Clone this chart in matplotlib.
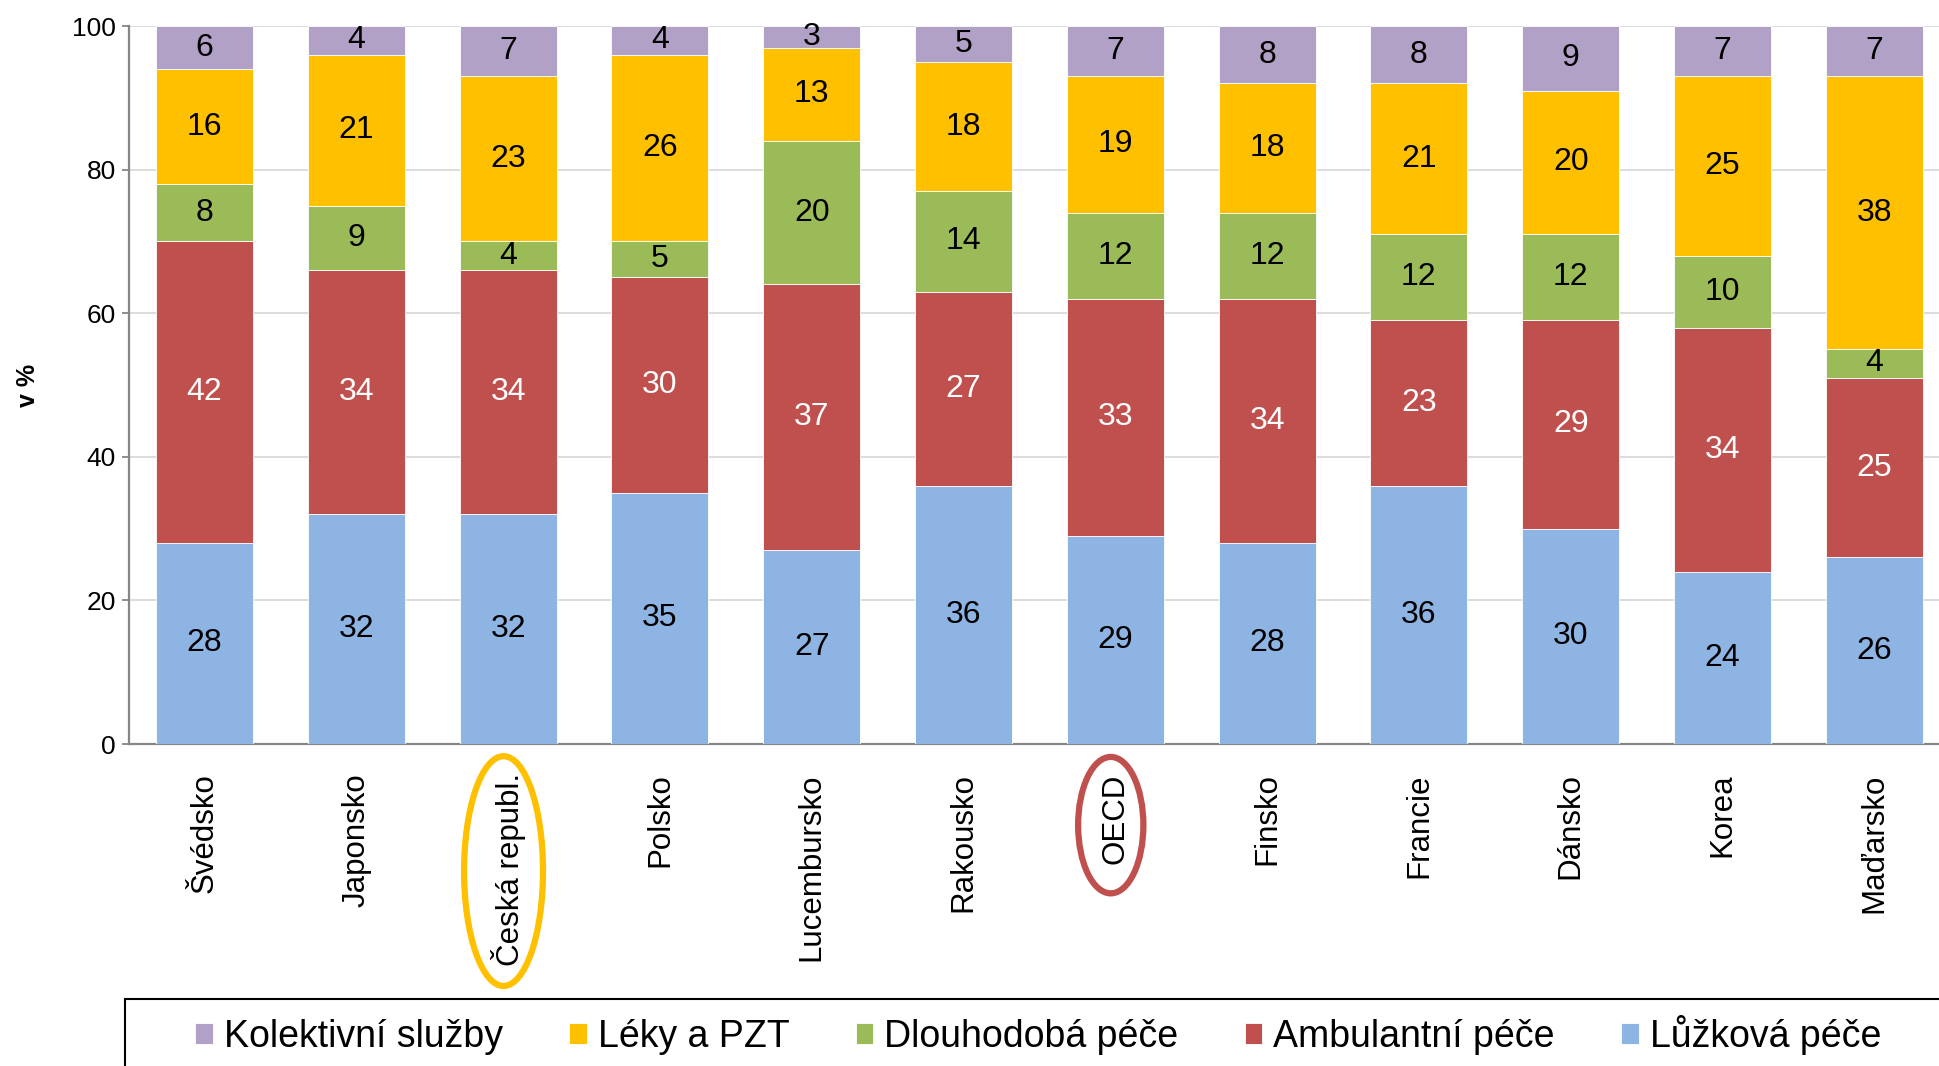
import numpy as np
import matplotlib.pyplot as plt
from matplotlib.patches import Ellipse, Rectangle
import matplotlib.transforms as mtransforms

plt.rcParams['font.family'] = ['Liberation Sans', 'DejaVu Sans']

zeme = ['Švédsko', 'Japonsko', 'Česká republ.', 'Polsko', 'Lucembursko',
        'Rakousko', 'OECD', 'Finsko', 'Francie', 'Dánsko', 'Korea', 'Maďarsko']

# od spodu nahoru
luzkova = [28, 32, 32, 35, 27, 36, 29, 28, 36, 30, 24, 26]
ambulantni = [42, 34, 34, 30, 37, 27, 33, 34, 23, 29, 34, 25]
dlouhodoba = [8, 9, 4, 5, 20, 14, 12, 12, 12, 12, 10, 4]
leky = [16, 21, 23, 26, 13, 18, 19, 18, 21, 20, 25, 38]
kolektivni = [6, 4, 7, 4, 3, 5, 7, 8, 8, 9, 7, 7]

serie = [
    ('Lůžková péče', luzkova, '#8EB4E3', 'black'),
    ('Ambulantní péče', ambulantni, '#C0504D', 'white'),
    ('Dlouhodobá péče', dlouhodoba, '#9BBB59', 'black'),
    ('Léky a PZT', leky, '#FFC000', 'black'),
    ('Kolektivní služby', kolektivni, '#B2A1C7', 'black'),
]

W, H = 1939, 1066
fig = plt.figure(figsize=(W / 100, H / 100), dpi=100)
ax = fig.add_axes([128.6 / W, 1 - 744 / H, 12 * 151.8 / W, 718 / H])

x = np.arange(len(zeme))
spodek = np.zeros(len(zeme))
handles = {}
for nazev, hodnoty, barva, barva_txt in serie:
    hodnoty = np.array(hodnoty, dtype=float)
    bars = ax.bar(x, hodnoty, bottom=spodek, width=0.64, color=barva,
                  edgecolor='white', linewidth=0.6, label=nazev, zorder=3)
    handles[nazev] = bars
    for xi, b, h in zip(x, spodek, hodnoty):
        ax.text(xi, b + h / 2, f'{int(h)}', ha='center', va='center',
                fontsize=23, color=barva_txt, zorder=4)
    spodek += hodnoty

ax.set_xlim(-0.5, 11.5)
ax.set_ylim(0, 100)
ax.set_yticks([0, 20, 40, 60, 80, 100])
ax.yaxis.grid(True, color='#D9D9D9', linewidth=1.3, zorder=0)
ax.set_axisbelow(True)
for s in ['top', 'right']:
    ax.spines[s].set_visible(False)
for s in ['left', 'bottom']:
    ax.spines[s].set_color('#868686')
    ax.spines[s].set_linewidth(1.6)
ax.tick_params(axis='y', labelsize=19, length=5, width=1.3, color='#868686', pad=4)
ax.set_xticks(x)
ax.set_xticklabels(zeme, rotation=90, fontsize=22.5, va='top', ha='center')
ax.tick_params(axis='x', length=0, pad=21)
ax.set_ylabel('v %', fontsize=18, fontweight='bold', labelpad=23)

# zvyrazneni CR a OECD
trans = mtransforms.blended_transform_factory(ax.transData, ax.transAxes)
ax.add_patch(Ellipse((1.97, -0.177), 0.52, 0.32, transform=trans, fill=False,
                     edgecolor='#FFC000', linewidth=4.5, clip_on=False))
ax.add_patch(Ellipse((5.97, -0.113), 0.43, 0.19, transform=trans, fill=False,
                     edgecolor='#C0504D', linewidth=4.5, clip_on=False))

# legenda
fig.patches.append(Rectangle((125 / W, -0.05), 1.0, 0.05 + 1 - 999 / H,
                             transform=fig.transFigure, fill=False,
                             edgecolor='black', linewidth=1.5))
poradi = ['Kolektivní služby', 'Léky a PZT', 'Dlouhodobá péče',
          'Ambulantní péče', 'Lůžková péče']
fig.legend([handles[n] for n in poradi], poradi, loc='center left',
           bbox_to_anchor=(195 / W, 1 - 1035 / H), ncol=5, frameon=False,
           fontsize=27, handlelength=0.47, handleheight=0.47,
           handletextpad=0.3, columnspacing=1.76, borderpad=0, borderaxespad=0)

fig.savefig('out.png', dpi=100)
